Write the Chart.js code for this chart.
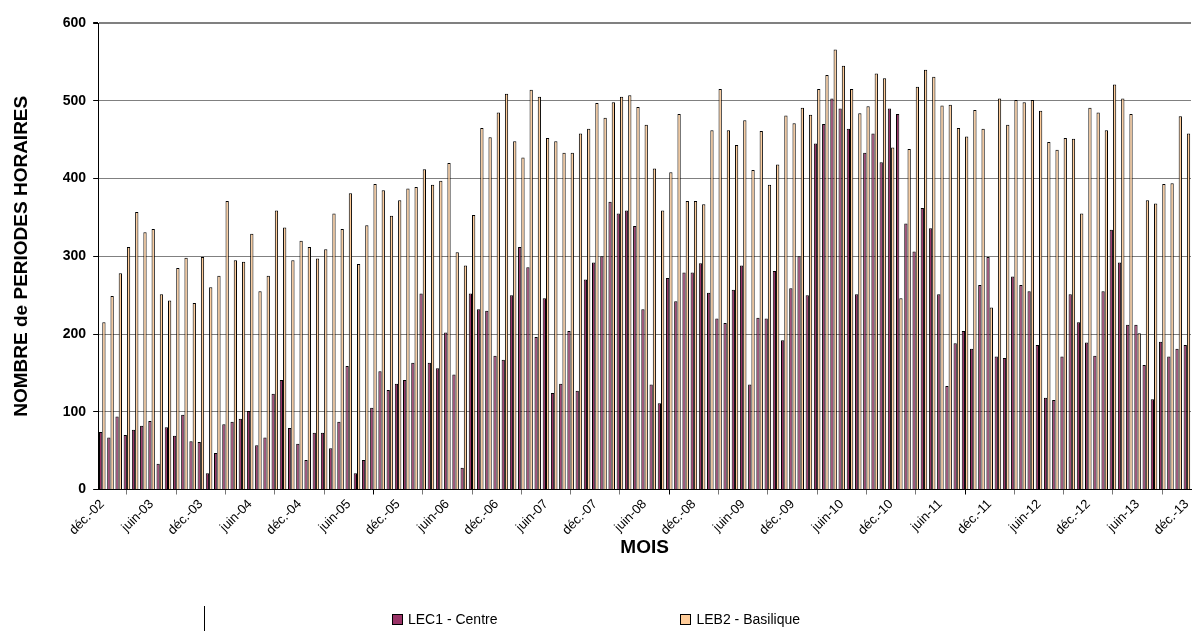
<!DOCTYPE html>
<html lang="fr">
<head>
<meta charset="utf-8">
<title>Nombre de périodes horaires par mois</title>
<script src="https://cdn.jsdelivr.net/npm/chart.js@4.4.1/dist/chart.umd.min.js"></script>
<style>
    html, body { margin: 0; padding: 0; background: #fff; }
    #wrap { position: relative; width: 1192px; height: 631px; font-family: "Liberation Sans", Arial, sans-serif; }
    #legend { position: absolute; left: 0; top: 611px; width: 1192px; display: flex; justify-content: center; gap: 183px; font-size: 14px; color: #000; }
    #legend .item { display: flex; align-items: center; }
    #legend .box { width: 9px; height: 9px; border: 1px solid #000; margin-right: 5px; }
    #trait { position: absolute; left: 204px; top: 606px; width: 1px; height: 25px; background: #000; }
</style>
</head>
<body>
<div id="wrap">
    <canvas id="chart" width="1192" height="631"></canvas>
    <div id="legend"></div>
    <div id="trait"></div>
</div>
<script>
// --- Données (déc.-02 -> déc.-13) ---
const moisNoms = ['janv.', 'févr.', 'mars', 'avr.', 'mai', 'juin', 'juil.', 'août', 'sept.', 'oct.', 'nov.', 'déc.'];

// catégories : un libellé par mois
const mois = [];
for (let a = 2002; a <= 2013; a++) {
    for (let m = 0; m < 12; m++) {
        if (a === 2002 && m < 11) continue;
        mois.push(moisNoms[m] + '-' + String(a).slice(2));
    }
}

const lec1 = [
    74,
    67, 94, 70, 77, 82, 88, 33, 80, 69, 96, 62, 61,
    21, 47, 84, 87, 91, 101, 57, 67, 123, 141, 79, 59,
    38, 73, 73, 53, 87, 159, 21, 38, 105, 152, 128, 136,
    141, 163, 252, 163, 156, 202, 148, 28, 252, 232, 230, 172,
    167, 250, 312, 286, 196, 246, 124, 136, 204, 127, 270, 292,
    300, 370, 355, 359, 339, 232, 135, 111, 272, 242, 279, 279,
    291, 253, 220, 214, 257, 288, 135, 221, 220, 281, 192, 259,
    300, 250, 445, 470, 503, 490, 464, 251, 433, 458, 421, 490,
    483, 342, 306, 362, 336, 251, 133, 188, 204, 181, 263, 299,
    171, 169, 274, 263, 255, 186, 118, 115, 171, 251, 215, 189,
    172, 255, 334, 292, 212, 212, 160, 116, 190, 171, 181, 186
];

const leb2 = [
    215,
    249, 278, 312, 357, 331, 335, 251, 243, 285, 298, 240, 299,
    260, 275, 371, 295, 293, 329, 255, 275, 359, 337, 295, 320,
    312, 297, 309, 355, 335, 381, 290, 340, 393, 385, 352, 372,
    387, 389, 412, 392, 397, 420, 305, 288, 353, 465, 453, 485,
    509, 448, 427, 514, 505, 452, 448, 433, 433, 458, 464, 497,
    478, 498, 505, 507, 492, 469, 413, 359, 408, 483, 371, 371,
    367, 462, 515, 462, 443, 475, 411, 461, 392, 418, 481, 471,
    491, 482, 515, 533, 566, 545, 515, 484, 493, 535, 529, 440,
    246, 438, 518, 540, 531, 494, 495, 465, 454, 488, 464, 234,
    503, 469, 501, 498, 501, 487, 447, 437, 452, 451, 355, 491,
    485, 462, 521, 503, 483, 201, 372, 368, 393, 394, 480, 458
];

const series = [
    { label: 'LEC1 - Centre', data: lec1, couleur: '#993366' },
    { label: 'LEB2 - Basilique', data: leb2, couleur: '#FFCC99' }
];

const police = '"Liberation Sans", Arial, sans-serif';

const chart = new Chart(document.getElementById('chart'), {
    type: 'bar',
    data: {
        labels: mois,
        datasets: series.map(s => ({
            label: s.label,
            data: s.data,
            backgroundColor: s.couleur,
            borderColor: '#000',
            borderWidth: 1,
            categoryPercentage: 0.8,
            barPercentage: 1.0
        }))
    },
    options: {
        responsive: false,
        animation: false,
        devicePixelRatio: 1,
        layout: { padding: { top: 23, left: 6, right: 1, bottom: 72 } },
        plugins: {
            legend: { display: false },
            tooltip: { enabled: false }
        },
        scales: {
            x: {
                // pas de marge à droite pour le dernier libellé incliné
                afterFit: scale => { scale.paddingRight = 0; },
                grid: {
                    display: true,
                    drawOnChartArea: false,
                    tickLength: 5,
                    color: ctx => (ctx.index % 6 === 0 ? '#000' : '#777')
                },
                border: { color: '#000', width: 1 },
                ticks: {
                    autoSkip: false,
                    maxRotation: 45,
                    minRotation: 45,
                    padding: 2,
                    color: '#000',
                    font: { family: police, size: 13 },
                    callback: function (val, i) {
                        return i % 6 === 0 ? this.getLabelForValue(val) : null;
                    }
                },
                title: {
                    display: true,
                    text: 'MOIS',
                    color: '#000',
                    font: { family: police, size: 19, weight: 'bold' },
                    padding: { top: -4, bottom: 0 }
                }
            },
            y: {
                min: 0,
                max: 600,
                ticks: {
                    stepSize: 100,
                    padding: 7,
                    color: '#000',
                    font: { family: police, size: 14, weight: 'bold' }
                },
                grid: {
                    color: '#808080',
                    lineWidth: ctx => (ctx.tick && ctx.tick.value === 600 ? 2 : 1),
                    tickColor: '#000',
                    tickLength: 5
                },
                border: { color: '#000', width: 1 },
                title: {
                    display: true,
                    text: 'NOMBRE de PERIODES HORAIRES',
                    color: '#000',
                    font: { family: police, size: 19, weight: 'bold' },
                    padding: { top: 4, bottom: 23 }
                }
            }
        }
    }
});

// --- Légende HTML ---
const legende = document.getElementById('legend');
chart.data.datasets.forEach(ds => {
    const item = document.createElement('div');
    item.className = 'item';
    const box = document.createElement('span');
    box.className = 'box';
    box.style.background = ds.backgroundColor;
    const txt = document.createElement('span');
    txt.textContent = ds.label;
    item.appendChild(box);
    item.appendChild(txt);
    legende.appendChild(item);
});
</script>
</body>
</html>
